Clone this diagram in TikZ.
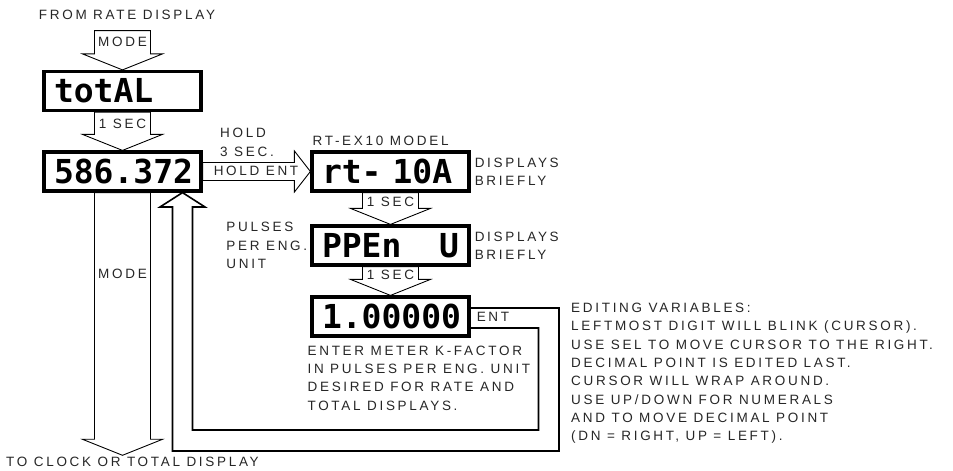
\documentclass[tikz,border=0pt]{standalone}
\usepackage{fontspec}
\newfontfamily\lblfont[LetterSpace=20]{Liberation Sans}
\newfontfamily\segfont{DejaVu Sans Mono}
\usetikzlibrary{positioning}

\begin{document}
\begin{tikzpicture}[x=1pt,y=1pt,
  every node/.style={font=\lblfont\fontsize{13.5}{18.3}\selectfont,text=black!85,inner sep=0pt},
  disp/.style={draw,line width=3.2pt,minimum width=157pt,minimum height=39pt,text width=137pt,align=left,
    font=\segfont\bfseries\fontsize{33}{33}\selectfont,text=black},
  blk/.style={line width=0.9pt},
  ret/.style={line width=1.6pt}]
\useasboundingbox (0,0) rectangle (953,471);
% meter displays, rate display chain and model/k-factor chain
\node[disp] (total) at (122.5,380) {totAL};
\node[disp] (val) at (122.5,299.5) {586.372};
\node[disp] (model) at (390.5,299.5) {rt- 10A};
\node[disp] (ppeu) at (390.5,225.5) {PPEn\hfill U};
\node[disp] (kfac) at (390.5,154.5) {1.00000};
\node (from) at (122.5,441) {};
\node (out) at (122.5,15) {};

\foreach \a/\b/\t/\d in {from/total/MODE/11, total/val/1 SEC/11.5, model/ppeu/1 SEC/9.5, ppeu/kfac/1 SEC/8, val/out/MODE/81} {
  \draw[blk] ([xshift=-28]\a.south) -- ([xshift=-28,yshift=16]\b.north) -- ++(-12,0) -- (\b.north)
    -- ([xshift=40,yshift=16]\b.north) -- ++(-12,0) -- ([xshift=28]\a.south) -- cycle;
  \node (t-\a) at ([yshift=-\d]\a.south) {\t};
}
\draw[blk] ([yshift=9]val.east) -- ([xshift=-16,yshift=9]model.west) -- ++(0,11.5) -- (model.west)
  -- ([xshift=-16,yshift=-20.5]model.west) -- ++(0,11.5) -- ([yshift=-9]val.east) -- cycle;
\draw[ret] ([yshift=8.5]kfac.east) -- (559,163) |- (172.5,20) -- (172.5,264) -- (160,264) -- ([xshift=60]val.south)
  -- (205,264) -- (192.5,264) -- (192.5,41) -| (538.5,143) -- ([yshift=-11.5]kfac.east);

\node (fromtxt) at (127,456) {FROM RATE DISPLAY};
\node[anchor=west] (totxt) at (6,9) {TO CLOCK OR TOTAL DISPLAY};
\node[anchor=west,align=left] (hold) at (220,328.5) {HOLD\\3 SEC.};
\node (holdent) at (256,300) {HOLD ENT};
\node[anchor=south west] (rtex) at ([xshift=2,yshift=5]model.north west) {RT-EX10 MODEL};
\node[right=4pt of model,align=left] (brief1) {DISPLAYS\\BRIEFLY};
\node[right=4pt of ppeu,align=left] (brief2) {DISPLAYS\\BRIEFLY};
\node[left=3pt of ppeu,align=left] (pulses) {PULSES\\PER ENG.\\UNIT};
\node[right=6pt of kfac] (ent) {ENT};
\node[anchor=north west,align=left] (kfactxt) at ([xshift=-3,yshift=-8]kfac.south west)
  {ENTER METER K-FACTOR\\IN PULSES PER ENG. UNIT\\DESIRED FOR RATE AND\\TOTAL DISPLAYS.};
\node[anchor=north west,align=left] (edit) at (571,168)
  {EDITING VARIABLES:\\LEFTMOST DIGIT WILL BLINK (CURSOR).\\USE SEL TO MOVE CURSOR TO THE RIGHT.\\
   DECIMAL POINT IS EDITED LAST.\\CURSOR WILL WRAP AROUND.\\USE UP/DOWN FOR NUMERALS\\
   AND TO MOVE DECIMAL POINT\\(DN = RIGHT, UP = LEFT).};
\end{tikzpicture}
\end{document}
